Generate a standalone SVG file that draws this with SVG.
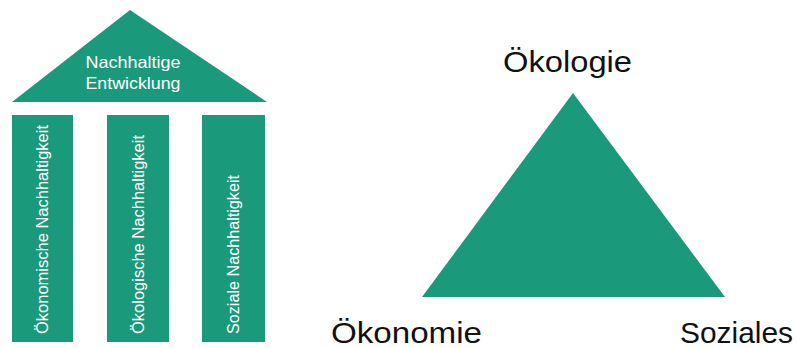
<svg xmlns="http://www.w3.org/2000/svg" width="798" height="348" viewBox="0 0 798 348">
<style>
.g{fill:#1b9a7b}
.w{fill:#ffffff;font-family:"Liberation Sans",Arial,sans-serif}
.pl{font-size:16px}
.rf{font-size:16.5px;text-anchor:middle}
.b{fill:#111111;font-family:"Liberation Sans",Arial,sans-serif;font-size:30px}
</style>
<rect width="798" height="348" fill="#ffffff"/>
<g id="roof">
<polygon class="g" points="130,10 267,102 12,102"/>
<text class="w rf" x="133" y="68" textLength="95" lengthAdjust="spacingAndGlyphs">Nachhaltige</text>
<text class="w rf" x="133" y="89" textLength="95" lengthAdjust="spacingAndGlyphs">Entwicklung</text>
</g>
<g id="pillar1">
<rect class="g" x="12" y="115" width="61" height="227"/>
<text class="w pl" transform="translate(47.5,334) rotate(-90)" textLength="209" lengthAdjust="spacingAndGlyphs">Ökonomische Nachhaltigkeit</text>
</g>
<g id="pillar2">
<rect class="g" x="107" y="115" width="62" height="227"/>
<text class="w pl" transform="translate(143.5,334) rotate(-90)" textLength="199" lengthAdjust="spacingAndGlyphs">Ökologische Nachhaltigkeit</text>
</g>
<g id="pillar3">
<rect class="g" x="202" y="115" width="63" height="227"/>
<text class="w pl" transform="translate(238.5,334) rotate(-90)" textLength="159" lengthAdjust="spacingAndGlyphs">Soziale Nachhaltigkeit</text>
</g>
<g id="triangle">
<polygon class="g" points="573,93 725,297 422,297"/>
</g>
<g id="oekologie"><text class="b" x="503" y="72" textLength="129" lengthAdjust="spacingAndGlyphs">Ökologie</text></g>
<g id="oekonomie"><text class="b" x="331" y="343" textLength="151" lengthAdjust="spacingAndGlyphs">Ökonomie</text></g>
<g id="soziales"><text class="b" x="680" y="343" textLength="113" lengthAdjust="spacingAndGlyphs">Soziales</text></g>
<g id="connectors"></g>
</svg>
